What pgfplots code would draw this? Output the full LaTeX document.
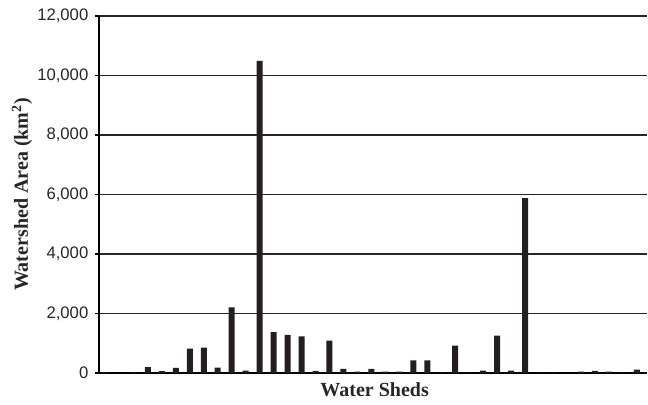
\documentclass[border=0pt]{standalone}
\usepackage{fontspec}
\setmainfont{Liberation Serif}
\setsansfont{Liberation Sans}
\usepackage{pgfplots}
\pgfplotsset{compat=1.18}
\definecolor{barcol}{HTML}{231F20}
\begin{document}
\begin{tikzpicture}
\begin{axis}[
  name=ax,
  scale only axis,
  width=411pt, height=267.75pt,
  xmin=-0.5, xmax=38.73,
  ymin=0, ymax=12000,
  ytick={0,2000,...,12000},
  xtick=\empty,
  axis x line*=bottom,
  axis y line*=left,
  axis line style={line width=1.1pt, black},
  ymajorgrids,
  grid style={line width=0.9pt, black!85},
  tick align=outside,
  major tick length=3pt,
  tick style={line width=0.9pt, black},
  scaled y ticks=false,
  /pgf/number format/assume math mode=true,
  /pgf/number format/1000 sep={,},
  yticklabel style={font=\sffamily\fontsize{12.5}{14}\selectfont, text=black!85, xshift=-1.5pt},
  ylabel={\textbf{Watershed Area (km$^{\mathbf{2}}$)}},
  xlabel={\textbf{Water Sheds}},
  every axis y label/.style={at={(axis description cs:-0.1405,0.5)}, rotate=90, anchor=center, font=\fontsize{15}{17}\selectfont, text=black!85},
  every axis x label/.style={at={(axis description cs:0.503,-0.0476)}, anchor=center, font=\fontsize{15}{17}\selectfont, text=black!85},
  ybar, bar width=4.5pt,
  clip=false,
]
\addplot[fill=barcol, draw=none] coordinates {
(0,20) (1,5) (2,20) (3,200) (4,60) (5,170) (6,820) (7,850) (8,180) (9,2210)
(10,80) (11,10490) (12,1370) (13,1280) (14,1230) (15,70) (16,1090) (17,135) (18,45) (19,135)
(20,45) (21,45) (22,425) (23,425) (24,10) (25,920) (26,15) (27,80) (28,1255) (29,80)
(30,5880) (31,10) (32,10) (33,5) (34,45) (35,70) (36,45) (37,15) (38,115)
};
\end{axis}
\pgfresetboundingbox
\path[use as bounding box] ([shift={(-74.25pt,-23.25pt)}]ax.south west) rectangle ([shift={(411.75pt,279.75pt)}]ax.south west);
\end{tikzpicture}
\end{document}
